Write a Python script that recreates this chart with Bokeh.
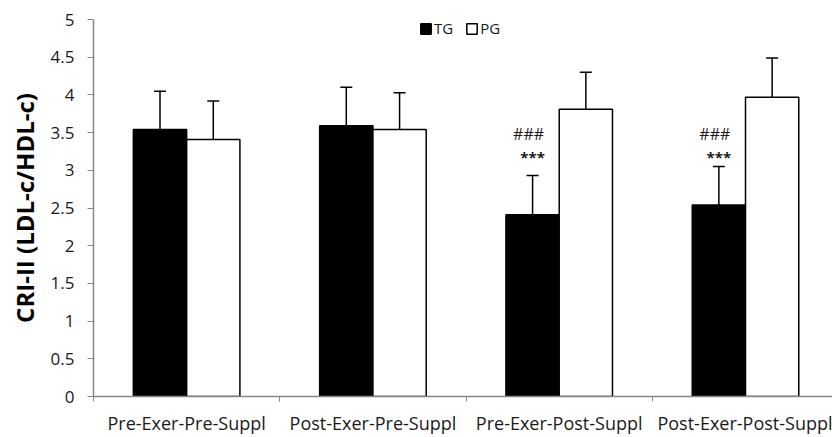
from bokeh.plotting import figure
from bokeh.models import (Range1d, FixedTicker, Whisker, TeeHead, ColumnDataSource,
                          Legend, LegendItem)
from bokeh.core.properties import value
from bokeh.embed import file_html
from bokeh.resources import INLINE

# ---- data ----
categories = ["Pre-Exer-Pre-Suppl", "Post-Exer-Pre-Suppl",
              "Pre-Exer-Post-Suppl", "Post-Exer-Post-Suppl"]
tg_values = [3.54, 3.59, 2.41, 2.54]
tg_errors = [0.51, 0.51, 0.52, 0.51]
pg_values = [3.41, 3.54, 3.81, 3.97]
pg_errors = [0.51, 0.49, 0.49, 0.52]
y_ticks = [0, 0.5, 1, 1.5, 2, 2.5, 3, 3.5, 4, 4.5, 5]
y_tick_labels = ["0", "0.5", "1", "1.5", "2", "2.5", "3", "3.5", "4", "4.5", "5"]
sig_categories = [2, 3]
sig_hash = ["###", "###"]
sig_star = ["***", "***"]
y_label = "CRI-II (LDL-c/HDL-c)"

# ---- style constants ----
FONT = "Open Sans"
AXIS_COLOR = "#868686"
TXT_COLOR = "#1a1a1a"
BAR_W = 0.286
TG_OFF = 0.357
PG_OFF = 0.643
HASH_Y = 3.48
STAR_Y = 3.17

n = len(categories)
tg_x = [i + TG_OFF for i in range(n)]
pg_x = [i + PG_OFF for i in range(n)]

tg_src = ColumnDataSource(dict(x=tg_x, top=tg_values,
                               up=[v + e for v, e in zip(tg_values, tg_errors)]))
pg_src = ColumnDataSource(dict(x=pg_x, top=pg_values,
                               up=[v + e for v, e in zip(pg_values, pg_errors)]))

p = figure(width=832, height=437, output_backend="svg", toolbar_location=None,
           x_range=Range1d(0, 3.967), y_range=Range1d(0, 5),
           min_border_left=93, min_border_right=0, min_border_top=19,
           min_border_bottom=40)
p.outline_line_color = None
p.xgrid.visible = False
p.ygrid.visible = False
p.background_fill_color = "white"
p.border_fill_color = "white"

r_tg = p.vbar(x="x", top="top", width=BAR_W, bottom=0, source=tg_src,
              fill_color="black", line_color="black", line_width=1.5)
r_pg = p.vbar(x="x", top="top", width=BAR_W, bottom=0, source=pg_src,
              fill_color="white", line_color="black", line_width=1.5)

for src in (tg_src, pg_src):
    w = Whisker(source=src, base="x", upper="up", lower="top", dimension="height",
                line_color="black", line_width=1.5, lower_head=None,
                upper_head=TeeHead(size=12, line_color="black", line_width=1.5),
                level="overlay")
    p.add_layout(w)

# significance marks
p.text(x=[i + TG_OFF for i in sig_categories], y=[HASH_Y] * len(sig_categories),
       text=sig_hash, text_align="center", text_baseline="middle",
       text_font=value(FONT), text_font_size="16px", text_color=TXT_COLOR,
       x_offset=-4)
p.text(x=[i + TG_OFF for i in sig_categories], y=[STAR_Y] * len(sig_categories),
       text=sig_star, text_align="center", text_baseline="middle",
       text_font=value(FONT), text_font_size="15px", text_font_style="bold",
       text_color=TXT_COLOR)

# x axis
xa = p.xaxis[0]
xa.ticker = FixedTicker(ticks=[i + 0.5 for i in range(n)],
                        minor_ticks=list(range(n + 1)))
xa.major_label_overrides = {i + 0.5: c for i, c in enumerate(categories)}
xa.major_tick_out = 0
xa.major_tick_in = 0
xa.minor_tick_out = 5
xa.minor_tick_in = 0
xa.minor_tick_line_color = AXIS_COLOR
xa.axis_line_color = AXIS_COLOR
xa.axis_line_width = 1.5
xa.major_label_text_font = FONT
xa.major_label_text_font_size = "18px"
xa.major_label_text_color = TXT_COLOR
xa.major_label_standoff = 9

# y axis
ya = p.yaxis[0]
ya.ticker = FixedTicker(ticks=y_ticks)
ya.major_label_overrides = {t: l for t, l in zip(y_ticks, y_tick_labels)}
ya.major_tick_out = 6
ya.major_tick_in = 0
ya.minor_tick_out = 0
ya.minor_tick_in = 0
ya.major_tick_line_color = AXIS_COLOR
ya.axis_line_color = AXIS_COLOR
ya.axis_line_width = 1.5
ya.major_label_text_font = FONT
ya.major_label_text_font_size = "17px"
ya.major_label_text_color = TXT_COLOR
ya.major_label_standoff = 13
ya.axis_label = y_label
ya.axis_label_text_font = FONT
ya.axis_label_text_font_size = "24px"
ya.axis_label_text_font_style = "bold"
ya.axis_label_text_color = "black"
ya.axis_label_standoff = 7

legend = Legend(items=[LegendItem(label="TG", renderers=[r_tg]),
                       LegendItem(label="PG", renderers=[r_pg])],
                orientation="horizontal", location=(326, 358),
                glyph_width=13, glyph_height=13, label_height=17, label_width=18,
                label_standoff=2, spacing=12, padding=0, margin=0,
                border_line_color=None, background_fill_alpha=0,
                label_text_font=FONT, label_text_font_size="15px",
                label_text_color=TXT_COLOR)
p.add_layout(legend)

open("out.html", "w").write(file_html(p, INLINE))
